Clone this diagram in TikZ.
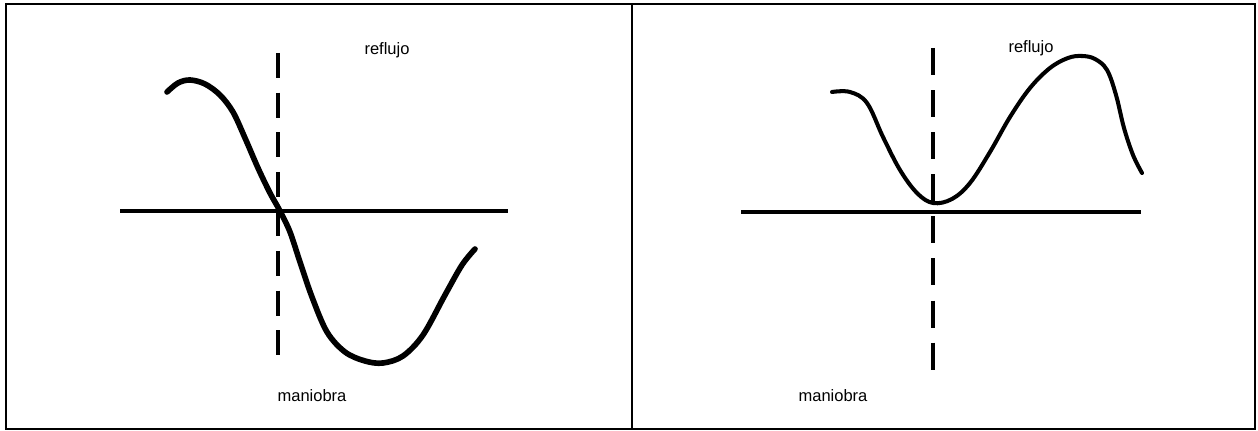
\documentclass[tikz,border=0pt]{standalone}
\usepackage{fontspec}
\setsansfont{Liberation Sans}
\usetikzlibrary{positioning}
\tikzset{
  marco/.style={draw=black, line width=1.3pt},
  eje/.style={draw=black, line width=2.1pt},
  guia/.style={draw=black, line width=1.9pt, dash pattern=on 0.5cm off 0.292cm},
  onda/.style={draw=black, line width=3.2pt, line cap=round, line join=round},
  rotulo/.style={font=\sffamily\fontsize{9.4}{11}\selectfont, inner sep=0pt}
}
\begin{document}
\begin{tikzpicture}[x=0.02cm, y=-0.02cm]
\useasboundingbox (0,0) rectangle (1258,431);
% marcos
\draw[marco] (6,4) rectangle (1255,429);
\draw[marco] (632,4) -- (632,429);
% panel izquierdo
\coordinate (ejeA-w) at (120,211);
\coordinate (ejeA-e) at (508,211);
\coordinate (guiaA-n) at (278,53);
\coordinate (guiaA-s) at (278,358);
\draw[eje] (ejeA-w) -- (ejeA-e);
\draw[guia] (guiaA-n) -- (guiaA-s);
\draw[onda] plot[smooth, tension=0.55] coordinates {(167,92) (178,83) (190,80)
  (205,84) (220,95) (233,112) (245,138) (258,168) (270,193) (280,211)
  (290,232) (300,262) (312,297) (327,332) (345,352) (365,361) (383,363)
  (403,356) (423,335) (445,295) (462,265) (475,249)};
\node[rotulo] (reflujoA) at (387,50) {reflujo};
\node[rotulo] (maniobraA) at (312,396) {maniobra};
% panel derecho
\coordinate (ejeB-w) at (741,212);
\coordinate (ejeB-e) at (1141,212);
\coordinate (guiaB-n) at (933,48);
\coordinate (guiaB-s) at (933,373);
\draw[eje, line width=2.6pt] (ejeB-w) -- (ejeB-e);
\draw[guia, dash pattern=on 0.54cm off 0.302cm] (guiaB-n) -- (guiaB-s);
\draw[onda, line width=2.3pt] plot[smooth, tension=0.6] coordinates {(832,92) (850,92)
  (867,103) (883,137) (900,170) (917,193) (933,203) (952,199) (970,183)
  (990,152) (1010,117) (1030,88) (1050,68) (1068,58) (1082,56) (1095,59)
  (1107,70) (1116,95) (1124,128) (1133,155) (1142,173)};
\node[rotulo] (reflujoB) at (1031,48) {reflujo};
\node[rotulo] (maniobraB) at (833,396) {maniobra};
\end{tikzpicture}
\end{document}
